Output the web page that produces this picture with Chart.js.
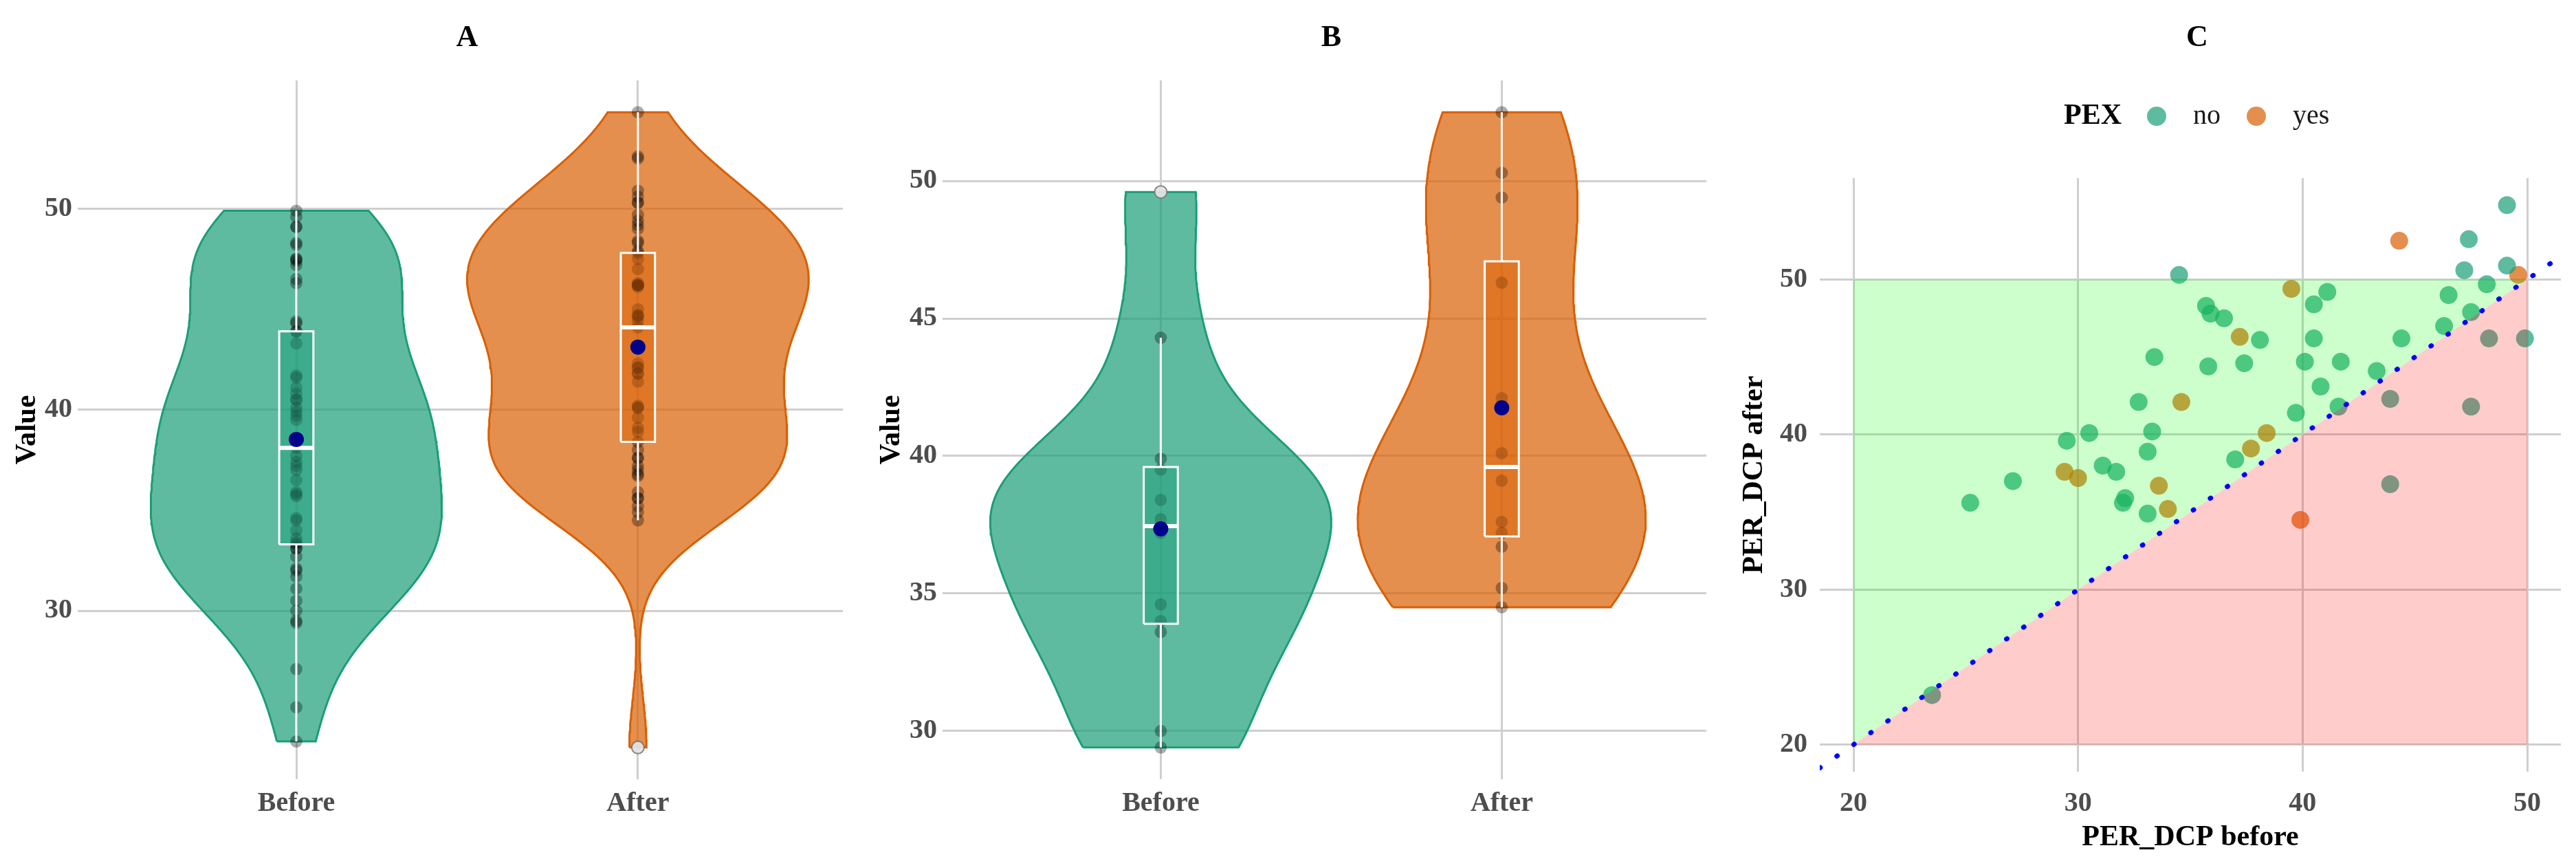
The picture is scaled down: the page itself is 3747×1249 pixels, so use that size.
<!DOCTYPE html>
<html>
<head>
<meta charset="utf-8">
<script src="https://cdn.jsdelivr.net/npm/chart.js@4/dist/chart.umd.min.js"></script>
<style>
  body { margin: 0; background: #fff; width: 3747px; height: 1249px; position: relative; overflow: hidden; }
  canvas { position: absolute; top: 0; }
</style>
</head>
<body>
<canvas id="chartA" width="1250" height="1249" style="left:0px"></canvas>
<canvas id="chartB" width="1250" height="1249" style="left:1250px"></canvas>
<canvas id="chartC" width="1247" height="1249" style="left:2500px"></canvas>
<script>
// ---- data (PER_DCP before / after, split by PEX) ----
const groups = ["Before", "After"];
const pexLevels = ["no", "yes"];

const noBefore = [34.5, 35.7, 35.9, 36.5, 38.1, 33.4, 35.8, 37.4, 32.7, 30.5, 29.5, 33.3, 25.2, 27.1, 33.1,
  31.1, 31.7, 32.1, 32.0, 33.1, 37.0, 49.1, 47.4, 47.2, 49.1, 41.1, 40.5, 48.2, 46.5, 47.5,
  40.5, 44.4, 48.3, 49.9, 46.3, 40.1, 41.7, 43.3, 40.8, 39.7, 41.6, 43.9, 47.5, 43.9, 23.5];
const noAfter = [50.3, 48.3, 47.8, 47.5, 46.1, 45.0, 44.4, 44.6, 42.1, 40.1, 39.6, 40.2, 35.6, 37.0, 38.9,
  38.0, 37.6, 35.9, 35.6, 34.9, 38.4, 54.8, 52.6, 50.6, 50.9, 49.2, 48.4, 49.7, 49.0, 47.9,
  46.2, 46.2, 46.2, 46.2, 47.0, 44.7, 44.7, 44.1, 43.1, 41.4, 41.8, 42.3, 41.8, 36.8, 23.2];
const yesBefore = [44.3, 49.6, 39.5, 37.2, 34.6, 38.4, 37.7, 29.4, 30.0, 33.6, 34.0, 39.9];
const yesAfter = [52.5, 50.3, 49.4, 46.3, 42.1, 40.1, 39.1, 37.6, 37.2, 36.7, 35.2, 34.5];

// shaded improvement / worsening zones in panel C
const zoneLow = 20;
const zoneHigh = 50;

// ---- look ----
const groupColors = ["#1b9e77", "#d95f02"];
const groupFills = ["rgba(27,158,119,0.7)", "rgba(217,95,2,0.7)"];
const boxFills = ["rgba(27,158,119,0.5)", "rgba(217,95,2,0.5)"];
const gridColor = "#cfcfcf";
const tickFont = { size: 40, weight: "bold" };
const titleFont = { size: 42, weight: "bold" };

Chart.defaults.font.family = '"Liberation Serif", "Times New Roman", serif';

// ---- stats helpers (same as ggplot's boxplot / violin stats) ----
function quantile(s, p) {
  const h = (s.length - 1) * p, lo = Math.floor(h);
  const next = lo + 1 < s.length ? s[lo + 1] : s[lo];
  return s[lo] + (h - lo) * (next - s[lo]);
}

function boxStats(vals) {
  const s = [...vals].sort((a, b) => a - b);
  const q1 = quantile(s, 0.25), med = quantile(s, 0.5), q3 = quantile(s, 0.75);
  const iqr = q3 - q1;
  const inside = s.filter(v => v >= q1 - 1.5 * iqr && v <= q3 + 1.5 * iqr);
  return {
    q1, med, q3,
    lo: inside[0], hi: inside[inside.length - 1],
    out: s.filter(v => v < q1 - 1.5 * iqr || v > q3 + 1.5 * iqr),
    mean: s.reduce((a, b) => a + b, 0) / s.length
  };
}

function density(vals) {
  const s = [...vals].sort((a, b) => a - b), n = s.length;
  const mean = s.reduce((a, b) => a + b, 0) / n;
  const sd = Math.sqrt(s.reduce((a, v) => a + (v - mean) ** 2, 0) / (n - 1));
  const iqr = quantile(s, 0.75) - quantile(s, 0.25);
  const bw = 0.9 * Math.min(sd, iqr / 1.34) * Math.pow(n, -0.2);
  const out = [];
  for (let i = 0; i < 160; i++) {
    const y = s[0] + (s[n - 1] - s[0]) * i / 159;
    let d = 0;
    s.forEach(v => { const z = (y - v) / bw; d += Math.exp(-0.5 * z * z); });
    out.push({ y, d: d / (n * bw * Math.sqrt(2 * Math.PI)) });
  }
  return out;
}

function violinPath(dens, c, k) {
  const left = dens.map(p => ({ x: c - p.d * k, y: p.y }));
  const right = dens.slice().reverse().map(p => ({ x: c + p.d * k, y: p.y }));
  return left.concat(right, [left[0]]);
}

// panel title centred over the plotting area
const panelTitle = {
  id: "panelTitle",
  afterDraw(chart, args, o) {
    const { ctx, chartArea } = chart;
    ctx.save();
    ctx.font = 'bold 44px "Liberation Serif"';
    ctx.fillStyle = "#000";
    ctx.textAlign = "center";
    ctx.textBaseline = "middle";
    ctx.fillText(o.text, (chartArea.left + chartArea.right) / 2 + 10, 56);
    ctx.restore();
  }
};

// ggplot-like legend with the title on the left
const pexLegend = {
  id: "pexLegend",
  afterDraw(chart, args, o) {
    if (!o.items) return;
    const ctx = chart.ctx;
    ctx.save();
    ctx.textBaseline = "middle";
    ctx.textAlign = "left";
    ctx.font = 'bold 42px "Liberation Serif"';
    ctx.fillStyle = "#000";
    ctx.fillText(o.title, 502, 169);
    o.items.forEach(it => {
      ctx.beginPath();
      ctx.arc(it.cx, 169, 14, 0, Math.PI * 2);
      ctx.fillStyle = it.color;
      ctx.fill();
      ctx.font = '40px "Liberation Serif"';
      ctx.fillStyle = "#1a1a1a";
      ctx.fillText(it.text, it.tx, 169);
    });
    ctx.restore();
  }
};

function makeViolinPanel(id, title, beforeVals, afterVals, cfg) {
  const sets = [beforeVals, afterVals];
  const all = beforeVals.concat(afterVals);
  const lo = Math.min(...all), hi = Math.max(...all), pad = (hi - lo) * 0.05;
  const dens = sets.map(density);
  const maxD = Math.max(...dens.flat().map(p => p.d));
  const k = 0.5 / maxD;
  const datasets = [];

  sets.forEach((vals, i) => {
    const c = i + 1, st = boxStats(vals), bw = 0.05;
    datasets.push(
      { data: violinPath(dens[i], c, k), fill: "shape", backgroundColor: groupFills[i],
        borderColor: groupColors[i], borderWidth: 3, pointRadius: 0, order: 6 },
      { data: vals.map(v => ({ x: c, y: v })), showLine: false, fill: false, pointRadius: 9,
        backgroundColor: "rgba(0,0,0,0.32)", borderColor: "rgba(0,0,0,0.32)", pointBorderWidth: 0, order: 5 },
      { data: [{ x: c - bw, y: st.q1 }, { x: c + bw, y: st.q1 }, { x: c + bw, y: st.q3 }, { x: c - bw, y: st.q3 }, { x: c - bw, y: st.q1 }],
        fill: "shape", backgroundColor: boxFills[i], borderColor: "#fff", borderWidth: 3, pointRadius: 0, order: 4 },
      { data: [{ x: c, y: st.q3 }, { x: c, y: st.hi }], fill: false, borderColor: "#fff", borderWidth: 3, pointRadius: 0, order: 3 },
      { data: [{ x: c, y: st.q1 }, { x: c, y: st.lo }], fill: false, borderColor: "#fff", borderWidth: 3, pointRadius: 0, order: 3 },
      { data: [{ x: c - bw, y: st.med }, { x: c + bw, y: st.med }], fill: false, borderColor: "#fff", borderWidth: 6, pointRadius: 0, order: 3 },
      { data: st.out.map(v => ({ x: c, y: v })), showLine: false, fill: false, pointRadius: 9,
        backgroundColor: "rgba(235,235,235,0.9)", borderColor: "rgba(110,110,110,0.8)", pointBorderWidth: 2, order: 2 },
      { data: [{ x: c, y: st.mean }], showLine: false, fill: false, pointRadius: 11,
        backgroundColor: "#00008b", borderColor: "#00008b", pointBorderWidth: 0, order: 1 }
    );
  });

  new Chart(document.getElementById(id), {
    type: "line",
    data: { datasets },
    plugins: [panelTitle],
    options: {
      responsive: false,
      animation: false,
      events: [],
      layout: { padding: { left: 0, right: cfg.padRight, top: 117, bottom: 0 } },
      plugins: { legend: { display: false }, tooltip: { enabled: false }, panelTitle: { text: title } },
      scales: {
        x: {
          type: "linear", min: 0.36, max: 2.6,
          afterBuildTicks: s => { s.ticks = [{ value: 1 }, { value: 2 }]; },
          afterFit: s => { s.height = 116; },
          grid: { color: gridColor, lineWidth: 3, drawTicks: false },
          border: { display: false },
          ticks: { callback: v => groups[Math.round(v) - 1], font: tickFont, color: "#4d4d4d", padding: 12 }
        },
        y: {
          type: "linear", min: lo - pad, max: hi + pad,
          afterFit: s => { s.width = cfg.yWidth; },
          grid: { color: gridColor, lineWidth: 3, drawTicks: false },
          border: { display: false },
          ticks: { stepSize: cfg.step, includeBounds: false, font: tickFont, color: "#4d4d4d", padding: 8 },
          title: { display: true, text: "Value", font: titleFont, color: "#000", padding: { top: cfg.yTitlePad, bottom: 0 } }
        }
      }
    }
  });
}

makeViolinPanel("chartA", "A", noBefore.concat(yesBefore), noAfter.concat(yesAfter),
  { padRight: 24, yWidth: 113, step: 10, yTitlePad: 15 });
makeViolinPanel("chartB", "B", yesBefore, yesAfter,
  { padRight: 18, yWidth: 121, step: 5, yTitlePad: 22 });

// ---- panel C: scatter of before vs after ----
(function () {
  const allAfter = noAfter.concat(yesAfter);
  const yLo = Math.min(zoneLow, ...allAfter), yHi = Math.max(zoneHigh, ...allAfter);
  const yPad = (yHi - yLo) * 0.05, xPad = (zoneHigh - zoneLow) * 0.05;
  const xMin = zoneLow - xPad, xMax = zoneHigh + xPad;

  const pointSets = [[noBefore, noAfter], [yesBefore, yesAfter]].map(([b, a], i) => ({
    label: pexLevels[i],
    data: b.map((v, j) => ({ x: v, y: a[j] })),
    showLine: false, fill: false, pointRadius: 13, pointBorderWidth: 0,
    backgroundColor: groupFills[i], borderColor: groupFills[i], order: 3
  }));

  new Chart(document.getElementById("chartC"), {
    type: "line",
    data: {
      datasets: pointSets.concat([
        { data: [{ x: zoneLow, y: zoneLow }, { x: zoneLow, y: zoneHigh }, { x: zoneHigh, y: zoneHigh }],
          fill: "shape", backgroundColor: "rgba(0,255,0,0.2)", borderWidth: 0, pointRadius: 0, order: 2 },
        { data: [{ x: zoneLow, y: zoneLow }, { x: zoneHigh, y: zoneLow }, { x: zoneHigh, y: zoneHigh }],
          fill: "shape", backgroundColor: "rgba(255,0,0,0.2)", borderWidth: 0, pointRadius: 0, order: 2 },
        { data: [{ x: xMin, y: xMin }, { x: xMax, y: xMax }], fill: false,
          borderColor: "#0000ff", borderWidth: 7, borderDash: [1, 29], borderCapStyle: "round",
          pointRadius: 0, order: 1 }
      ])
    },
    plugins: [panelTitle, pexLegend],
    options: {
      responsive: false,
      animation: false,
      events: [],
      layout: { padding: { left: 0, right: 22, top: 259, bottom: 0 } },
      plugins: {
        legend: { display: false },
        tooltip: { enabled: false },
        panelTitle: { text: "C" },
        pexLegend: {
          title: "PEX",
          items: [
            { text: pexLevels[0], color: groupFills[0], cx: 637, tx: 690 },
            { text: pexLevels[1], color: groupFills[1], cx: 782, tx: 835 }
          ]
        }
      },
      scales: {
        x: {
          type: "linear", min: xMin, max: xMax,
          afterFit: s => { s.height = 127; },
          grid: { color: gridColor, lineWidth: 3, drawTicks: false },
          border: { display: false },
          ticks: { stepSize: 10, includeBounds: false, font: tickFont, color: "#4d4d4d", padding: 23 },
          title: { display: true, text: "PER_DCP before", font: titleFont, color: "#000", padding: { top: 0, bottom: 6 } }
        },
        y: {
          type: "linear", min: yLo - yPad, max: yHi + yPad,
          afterFit: s => { s.width = 147; },
          grid: { color: gridColor, lineWidth: 3, drawTicks: false },
          border: { display: false },
          ticks: { stepSize: 10, includeBounds: false, font: tickFont, color: "#4d4d4d", padding: 18 },
          title: { display: true, text: "PER_DCP after", font: titleFont, color: "#000", padding: { top: 27, bottom: 0 } }
        }
      }
    }
  });
})();
</script>
</body>
</html>
